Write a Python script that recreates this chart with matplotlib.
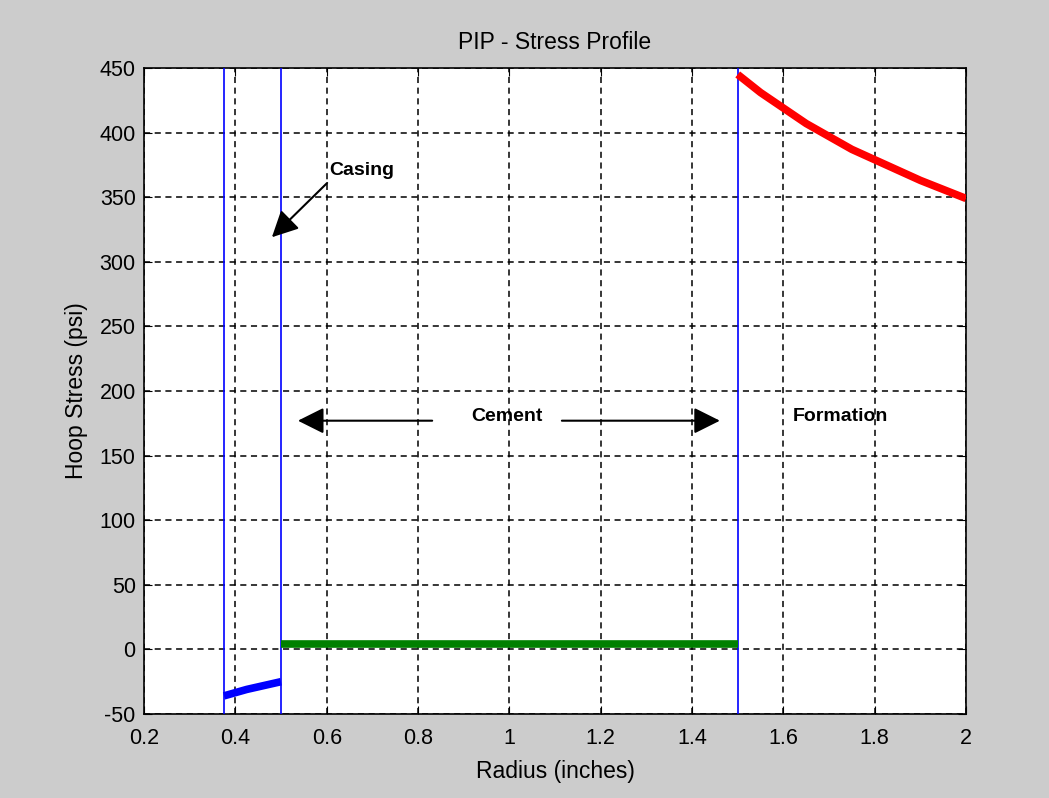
import matplotlib.pyplot as plt
import numpy as np

# Радиальные границы слоёв (дюймы)
r_casing_in = 0.375
r_casing_out = 0.5
r_formation = 1.5

# Кольцевое напряжение в обсадной колонне
r_casing = [0.375, 0.4, 0.425, 0.45, 0.475, 0.5]
s_casing = [-36, -33.5, -31, -29, -27, -25]

# Цементное кольцо
r_cement = [0.5, 1.5]
s_cement = [4, 4]

# Порода
r_form = [1.5, 1.55, 1.6, 1.65, 1.7, 1.75, 1.8, 1.85, 1.9, 1.95, 2.0]
s_form = [445, 431, 419, 407, 397, 387, 379, 371, 363, 356, 349]

plt.rcParams['font.family'] = ['Liberation Sans', 'DejaVu Sans']
plt.rcParams['axes.unicode_minus'] = False

fig = plt.figure(figsize=(10.49, 7.98), dpi=100, facecolor='#cccccc')
ax = fig.add_axes([0.1373, 0.1053, 0.7836, 0.8095])
ax.set_facecolor('white')

# Границы слоёв
for r in (r_casing_in, r_casing_out, r_formation):
    ax.axvline(r, color='#0000ff', lw=1.2, zorder=3)

ax.plot(r_casing, s_casing, color='#0000ff', lw=5.5, solid_capstyle='butt', zorder=4)
ax.plot(r_cement, s_cement, color='#008000', lw=5.5, solid_capstyle='butt', zorder=4)
ax.plot(r_form, s_form, color='#ff0000', lw=5.5, solid_capstyle='butt', zorder=4)

ax.set_xlim(0.2, 2.0)
ax.set_ylim(-50, 450)
ax.set_xticks(np.arange(0.2, 2.01, 0.2))
ax.set_xticklabels(['0.2', '0.4', '0.6', '0.8', '1', '1.2', '1.4', '1.6', '1.8', '2'])
ax.set_yticks(np.arange(-50, 451, 50))

ax.grid(True, color='black', linestyle=(0, (4, 3)), lw=1.1)
ax.tick_params(direction='in', top=True, right=True, length=6, labelsize=15.5)
ax.tick_params(axis='x', pad=10)
ax.tick_params(axis='y', pad=6)
for sp in ax.spines.values():
    sp.set_linewidth(1.2)

ax.set_title('PIP - Stress Profile', fontsize=16.5, pad=14)
ax.set_xlabel('Radius (inches)', fontsize=16.5, labelpad=8)
ax.set_ylabel('Hoop Stress (psi)', fontsize=16.5, labelpad=8)

# Подписи слоёв
arrow = dict(arrowstyle='-|>', color='black', lw=1.5, mutation_scale=40, shrinkA=0, shrinkB=0)
ax.text(0.677, 371, 'Casing', fontsize=14, fontweight='bold', ha='center', va='center')
ax.annotate('', xy=(0.48, 319), xytext=(0.601, 361), arrowprops=arrow)

ax.text(0.995, 180, 'Cement', fontsize=14, fontweight='bold', ha='center', va='center')
ax.annotate('', xy=(0.537, 177), xytext=(0.831, 177), arrowprops=arrow)
ax.annotate('', xy=(1.461, 177), xytext=(1.115, 177), arrowprops=arrow)

ax.text(1.724, 180, 'Formation', fontsize=14, fontweight='bold', ha='center', va='center')

fig.savefig('out.png', dpi=100, facecolor=fig.get_facecolor())
